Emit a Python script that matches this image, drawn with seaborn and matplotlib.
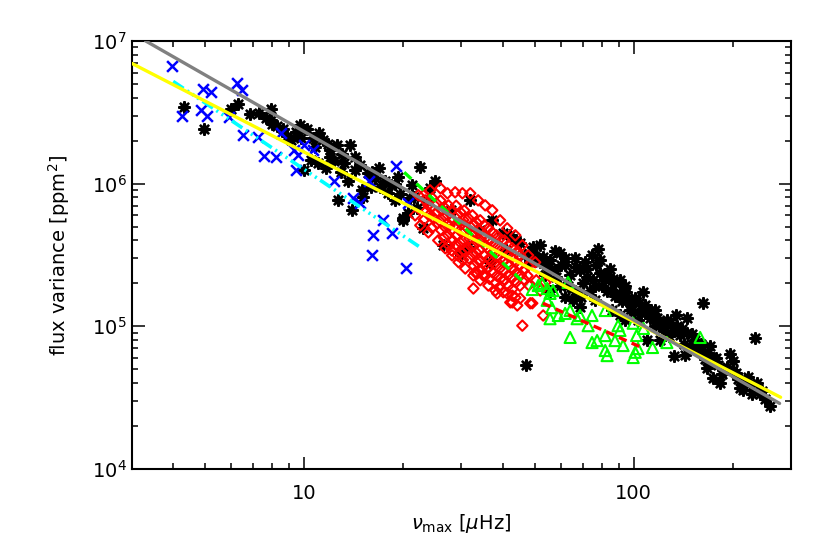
import matplotlib
matplotlib.use("Agg")
import matplotlib.pyplot as plt
import seaborn as sns
from matplotlib.ticker import NullFormatter, LogLocator

# --------------------------------------------------
# Data
# nu_max in muHz, flux variance in ppm^2
# --------------------------------------------------

black_numax = [
    4.31, 4.95, 5.98, 6.30, 6.85, 7.27, 7.63, 7.91, 7.91, 8.25,
    8.60, 8.84, 9.09, 9.41, 9.74, 10.2, 10.6, 11.05, 11.4, 12.0,
    12.0, 12.6, 13.2, 13.8, 14.3, 11.0, 9.95, 10.45, 11.6, 12.9,
    13.6, 14.3, 15.0, 15.6, 15.9, 16.4, 16.8, 17.6, 17.9, 18.3,
    19.2, 20.0, 20.6, 19.9, 22.0, 22.5, 21.3, 23.0, 12.7, 14.0,
    15.1, 24.1, 18.9, 21.0,
    8.0, 10.8, 11.8, 13.0, 14.8, 16.0, 17.0, 18.8, 19.5, 21.5,
    23.5, 9.8, 12.3,
    26.4, 29.8, 31.3, 37.2, 40.2, 45.2, 49.5, 53.1, 27.8, 34.2,
    25.0, 31.9, 42.2, 46.8, 36.7, 47.2, 44.0, 48.5, 55.0, 41.0,
    49.5, 52.0, 55.8, 57.7, 59.8, 61.9, 64.1, 66.4, 68.8, 71.2,
    72.2, 74.7, 76.3, 79.1, 81.8, 83.0, 84.8, 86.6, 87.8, 90.9,
    94.1, 96.1, 97.4, 101, 105, 107, 108, 112, 116, 120,
    110, 124, 129, 132, 132, 138, 145, 145, 148, 153,
    159, 162, 164, 167, 170, 174, 174, 180, 183, 189,
    196, 200, 200, 207, 210, 217, 225, 228, 236, 241,
    250, 259, 233, 65.5, 68.8, 73.7, 66.4, 59.8, 53.9, 55.8,
    90.9, 103, 120, 143, 76.3, 57.7, 79.1, 90.9, 116, 134, 78.0, 52.0,
    58, 62, 63, 67, 70, 72, 75, 77, 80, 82,
    85, 88, 92, 95, 98, 100, 104, 109, 113, 118,
    122, 126, 128, 135, 140, 142, 150, 156, 160, 168,
    172, 178, 185, 192, 205, 215, 222, 245, 62, 69,
    86, 94, 55, 51, 60,
]
black_var = [
    3.43e6, 2.40e6, 3.32e6, 3.60e6, 3.06e6, 3.11e6, 2.87e6, 3.32e6, 2.78e6, 2.52e6,
    2.40e6, 2.15e6, 2.01e6, 2.29e6, 2.57e6, 2.40e6, 2.08e6, 2.25e6, 2.01e6, 1.71e6,
    1.53e6, 1.86e6, 1.39e6, 1.86e6, 1.53e6, 1.39e6, 1.24e6, 1.46e6, 1.28e6, 1.20e6,
    1.05e6, 1.24e6, 8.97e5, 1.18e6, 9.42e5, 1.09e6, 1.28e6, 1.05e6, 8.55e5, 9.73e5,
    1.11e6, 5.71e5, 6.19e5, 5.53e5, 6.71e5, 1.30e6, 9.73e5, 4.86e5, 7.63e5, 6.50e5,
    8.01e5, 9.27e5, 7.63e5, 7.88e5,
    2.6e6, 1.8e6, 1.9e6, 1.6e6, 1.35e6, 1.2e6, 9.5e5, 1.0e6, 8.5e5, 8.0e5,
    7.5e5, 2.1e6, 1.45e6,
    3.69e5, 3.14e5, 3.57e5, 5.53e5, 4.48e5, 3.81e5, 3.57e5, 3.04e5, 6.50e5, 4.70e5,
    1.05e6, 7.63e5, 4.34e5, 3.14e5, 2.81e5, 5.31e4, 4.0e5, 2.8e5, 2.6e5, 3.4e5,
    3.24e5, 2.81e5, 2.90e5, 2.46e5, 3.24e5, 2.67e5, 2.27e5, 2.99e5, 2.46e5, 2.81e5,
    2.20e5, 3.14e5, 1.93e5, 2.38e5, 2.10e5, 1.78e5, 2.54e5, 2.16e5, 1.64e5, 1.70e5,
    1.93e5, 1.52e5, 1.29e5, 1.57e5, 1.23e5, 1.73e5, 1.40e5, 1.15e5, 1.01e5, 1.06e5,
    7.95e4, 9.34e4, 1.06e5, 9.34e4, 6.14e4, 8.62e4, 1.15e5, 8.90e4, 7.33e4, 7.95e4,
    6.76e4, 1.45e5, 5.94e4, 5.14e4, 7.33e4, 6.04e4, 4.37e4, 5.31e4, 4.03e4, 4.90e4,
    6.44e4, 5.75e4, 4.90e4, 4.30e4, 3.72e4, 4.17e4, 3.97e4, 3.37e4, 4.03e4, 3.37e4,
    3.11e4, 2.78e4, 8.34e4, 1.52e5, 1.36e5, 1.78e5, 1.78e5, 1.93e5, 2.27e5, 1.78e5,
    1.19e5, 1.10e5, 7.95e4, 6.24e4, 1.52e5, 3.36e5, 2.90e5, 2.10e5, 1.29e5, 1.19e5, 3.5e5, 3.7e5,
    2.2e5, 3.0e5, 1.9e5, 2.6e5, 2.0e5, 2.5e5, 2.1e5, 2.7e5, 1.9e5, 2.3e5,
    1.8e5, 2.0e5, 1.5e5, 1.75e5, 1.4e5, 1.25e5, 1.45e5, 1.25e5, 1.3e5, 1.15e5,
    9.8e4, 1.1e5, 8.5e4, 1.0e5, 9.5e4, 7.5e4, 8.8e4, 6.8e4, 7.5e4, 6.5e4,
    5.5e4, 6.0e4, 4.6e4, 5.2e4, 4.7e4, 3.6e4, 4.4e4, 3.5e4, 1.6e5, 1.6e5,
    1.3e5, 1.1e5, 2.5e5, 3.0e5, 2.7e5,
]

blue_numax = [
    3.96, 4.25, 4.92, 5.20, 4.85, 5.06, 6.24, 6.46, 5.90, 6.50,
    7.22, 8.47, 7.53, 8.19, 9.28, 9.55, 9.95, 10.6, 9.41, 12.3,
    15.7, 14.1, 14.8, 19.0, 20.7, 17.3, 16.2, 18.4, 16.0, 20.3,
]
blue_var = [
    6.65e6, 2.97e6, 4.59e6, 4.38e6, 3.27e6, 2.97e6, 5.06e6, 4.52e6, 2.92e6, 2.18e6,
    2.11e6, 2.25e6, 1.56e6, 1.53e6, 1.71e6, 1.58e6, 1.86e6, 1.71e6, 1.24e6, 1.05e6,
    1.05e6, 7.89e5, 7.28e5, 1.32e6, 7.28e5, 5.52e5, 4.33e5, 4.48e5, 3.14e5, 2.55e5,
]

red_numax = [
    # upper rim
    22.2, 23.0, 24.1, 25.9, 27.2, 28.7, 30.2, 31.9, 33.7, 35.4, 37.2, 39.3, 41.3, 43.7, 45.9, 47.8, 50.2,
    # lower rim
    21.7, 22.5, 23.8, 24.6, 25.5, 26.8, 28.1, 29.4, 30.8, 32.6, 34.2, 36.2, 38.0, 40.2, 42.8, 45.2, 48.5,
    # core
    23.3, 23.5, 23.1,
    24.5, 24.3, 24.7, 24.4,
    25.9, 26.1, 25.7, 26.0,
    27.4, 27.2, 27.6, 27.3, 27.5,
    28.9, 29.1, 28.7, 29.0, 28.8, 29.2,
    30.6, 30.4, 30.8, 30.5, 30.7, 30.3,
    32.4, 32.6, 32.2, 32.5, 32.3, 32.7,
    34.2, 34.0, 34.4, 34.1, 34.3, 34.5,
    36.2, 36.4, 36.0, 36.3, 36.1, 36.5,
    38.3, 38.1, 38.5, 38.2, 38.4, 38.0,
    40.5, 40.3, 40.7, 40.4, 40.6,
    42.8, 42.6, 43.0, 42.7, 42.9,
    45.2, 45.0, 45.4, 45.1,
    47.8, 47.6, 48.0,
    # in between
    23.8, 23.9,
    25.2, 25.0, 25.3,
    26.6, 26.4, 26.8, 26.5,
    28.1, 28.3, 27.9, 28.2, 28.0,
    29.8, 29.6, 30.0, 29.7, 29.9,
    31.5, 31.3, 31.7, 31.4, 31.6,
    33.3, 33.1, 33.5, 33.2, 33.4, 33.0,
    35.2, 35.0, 35.4, 35.1, 35.3, 35.5,
    37.2, 37.0, 37.4, 37.1, 37.3,
    39.3, 39.1, 39.5, 39.2, 39.4, 39.0,
    41.6, 41.4, 41.8, 41.5, 41.7,
    44.0, 43.8, 44.2, 43.9,
    46.5, 46.3, 46.7,
    # stragglers
    32.6, 33.5, 34.9, 38.5, 41.3, 42.2, 43.7, 45.9, 49.2, 42.8, 44.3, 53.1, 52.0, 50.6, 53.9,
]
red_var = [
    8.28e5, 8.28e5, 8.97e5, 9.27e5, 8.55e5, 8.69e5, 8.55e5, 8.55e5, 7.63e5, 7.04e5, 6.50e5, 5.53e5, 4.86e5, 4.34e5, 3.69e5, 3.14e5, 2.81e5,
    5.99e5, 5.10e5, 4.55e5, 5.80e5, 4.00e5, 3.52e5, 3.14e5, 2.81e5, 2.54e5, 2.27e5, 2.10e5, 1.93e5, 1.78e5, 1.73e5, 1.64e5, 1.57e5, 1.45e5,
    7.63e5, 6.45e5, 5.58e5,
    7.89e5, 6.75e5, 5.68e5, 4.90e5,
    7.60e5, 6.52e5, 5.50e5, 4.72e5,
    7.04e5, 6.02e5, 5.08e5, 4.36e5, 3.67e5,
    7.00e5, 5.99e5, 5.12e5, 4.32e5, 3.71e5, 3.14e5,
    6.48e5, 5.55e5, 4.68e5, 4.02e5, 3.38e5, 2.92e5,
    5.99e5, 5.08e5, 4.36e5, 3.67e5, 3.16e5, 2.65e5,
    5.53e5, 4.72e5, 3.98e5, 3.42e5, 2.88e5, 2.47e5,
    4.86e5, 4.11e5, 3.54e5, 2.97e5, 2.55e5, 2.15e5,
    4.34e5, 3.71e5, 3.12e5, 2.68e5, 2.26e5, 2.01e5,
    4.00e5, 3.38e5, 2.92e5, 2.45e5, 2.11e5,
    3.52e5, 3.01e5, 2.53e5, 2.17e5, 1.83e5,
    3.14e5, 2.66e5, 2.28e5, 1.92e5,
    2.67e5, 2.26e5, 1.94e5,
    7.04e5, 5.99e5,
    7.27e5, 6.19e5, 5.26e5,
    6.82e5, 5.80e5, 4.93e5, 4.20e5,
    6.50e5, 5.53e5, 4.70e5, 4.00e5, 3.40e5,
    6.29e5, 5.35e5, 4.55e5, 3.87e5, 3.30e5,
    5.71e5, 4.86e5, 4.13e5, 3.52e5, 2.99e5,
    5.35e5, 4.55e5, 3.87e5, 3.30e5, 2.81e5, 2.38e5,
    5.10e5, 4.34e5, 3.69e5, 3.14e5, 2.67e5, 2.27e5,
    4.55e5, 3.87e5, 3.30e5, 2.81e5, 2.38e5,
    4.13e5, 3.52e5, 2.99e5, 2.54e5, 2.16e5, 1.87e5,
    3.69e5, 3.14e5, 2.67e5, 2.27e5, 1.93e5,
    3.30e5, 2.81e5, 2.38e5, 2.03e5,
    2.90e5, 2.46e5, 2.10e5,
    1.84e5, 2.35e5, 2.27e5, 1.70e5, 1.70e5, 1.47e5, 1.59e5, 1.01e5, 1.45e5, 1.47e5, 1.40e5, 1.19e5, 1.78e5, 2.10e5, 2.03e5,
]

green_numax = [
    49.2, 51.3, 52.7, 54.6, 56.9, 55.7, 54.6, 56.4, 55.7, 59.0,
    61.9, 64.1, 63.2, 67.3, 68.7, 74.7, 72.7, 64.1, 74.7, 77.4,
    81.9, 81.9, 81.9, 83.0, 87.7, 89.6, 90.8, 92.8, 99.6, 102,
    101, 99.6, 103, 107, 114, 126, 159,
]
green_var = [
    1.81e5, 1.93e5, 2.0e5, 1.84e5, 1.78e5, 1.70e5, 1.52e5, 1.35e5, 1.13e5, 1.19e5,
    1.23e5, 1.29e5, 2.03e5, 1.13e5, 1.19e5, 1.19e5, 1.01e5, 8.35e4, 7.69e4, 7.94e4,
    1.29e5, 8.61e4, 6.76e4, 6.23e4, 7.94e4, 1.01e5, 9.35e4, 7.33e4, 1.05e5, 8.61e4,
    6.57e4, 6.04e4, 6.98e4, 9.66e4, 7.10e4, 7.69e4, 8.35e4,
]

# fitted power laws (end points)
gray_fit_numax = [3.30, 277]
gray_fit_var = [1.0e7, 2.88e4]
yellow_fit_numax = [3.0, 279]
yellow_fit_var = [6.95e6, 3.18e4]
cyan_fit_numax = [4.0, 22.8]
cyan_fit_var = [5.2e6, 3.5e5]
green_fit_numax = [20.1, 47.5]
green_fit_var = [1.2e6, 1.93e5]
red_fit_numax = [53, 107]
red_fit_var = [1.45e5, 7.0e4]

x_ticks = [10, 100]
x_tick_labels = ["10", "100"]
y_ticks = [1e4, 1e5, 1e6, 1e7]

# --------------------------------------------------
# Plot
# --------------------------------------------------

sns.set_style("ticks")
plt.rcParams["font.family"] = ["DejaVu Sans"]
plt.rcParams["mathtext.fontset"] = "dejavusans"
plt.rcParams["lines.scale_dashes"] = False
for key in ["text.color", "axes.labelcolor", "xtick.color", "ytick.color"]:
    plt.rcParams[key] = "black"

fig, ax = plt.subplots(figsize=(8.3, 5.53), dpi=100)
fig.subplots_adjust(left=0.159, right=0.953, bottom=0.152, top=0.926)

sns.scatterplot(x=black_numax, y=black_var, marker=(8, 2, 0), s=58,
                color="black", linewidth=1.8, ax=ax, zorder=2)
sns.scatterplot(x=blue_numax, y=blue_var, marker="x", s=60,
                color="#0000FF", linewidth=1.8, ax=ax, zorder=3)
sns.scatterplot(x=red_numax, y=red_var, marker="D", s=28,
                facecolor="none", edgecolor="#FF0000", linewidth=1.5,
                ax=ax, zorder=4)
sns.scatterplot(x=green_numax, y=green_var, marker="^", s=64,
                facecolor="none", edgecolor="#00FF00", linewidth=1.5,
                ax=ax, zorder=5)

sns.lineplot(x=cyan_fit_numax, y=cyan_fit_var, color="#00FFFF", linewidth=2.6,
             linestyle=(0, (9, 3, 1.5, 3, 1.5, 3, 1.5, 3)), ax=ax, zorder=6)
sns.lineplot(x=green_fit_numax, y=green_fit_var, color="#00FF00", linewidth=2.4,
             linestyle=(0, (7, 5)), ax=ax, zorder=6)
sns.lineplot(x=red_fit_numax, y=red_fit_var, color="#FF0000", linewidth=2.4,
             linestyle=(0, (6, 4)), ax=ax, zorder=6)
sns.lineplot(x=yellow_fit_numax, y=yellow_fit_var, color="#FFFF00", linewidth=2.4,
             ax=ax, zorder=7)
sns.lineplot(x=gray_fit_numax, y=gray_fit_var, color="#808080", linewidth=2.4,
             ax=ax, zorder=8)

ax.set_xscale("log")
ax.set_yscale("log")
ax.set_xlim(3, 300)
ax.set_ylim(1e4, 1e7)

ax.set_xticks(x_ticks, labels=x_tick_labels)
ax.set_yticks(y_ticks)
ax.xaxis.set_minor_locator(LogLocator(base=10, subs=range(2, 10)))
ax.yaxis.set_minor_locator(LogLocator(base=10, subs=range(2, 10)))
ax.xaxis.set_minor_formatter(NullFormatter())
ax.yaxis.set_minor_formatter(NullFormatter())

ax.tick_params(which="both", direction="in", top=True, right=True,
               width=1.1, color="black")
ax.tick_params(which="major", length=9, labelsize=14)
ax.tick_params(which="minor", length=4.5)
ax.tick_params(axis="x", pad=11)
ax.tick_params(axis="y", pad=4)

for sp in ax.spines.values():
    sp.set_linewidth(1.5)
    sp.set_color("black")

ax.set_xlabel(r"$\nu_{\rm max}$ [$\mu$Hz]", fontsize=14, labelpad=6)
ax.set_ylabel(r"flux variance [ppm$^2$]", fontsize=14, labelpad=14)

plt.savefig("out.png", dpi=100)
